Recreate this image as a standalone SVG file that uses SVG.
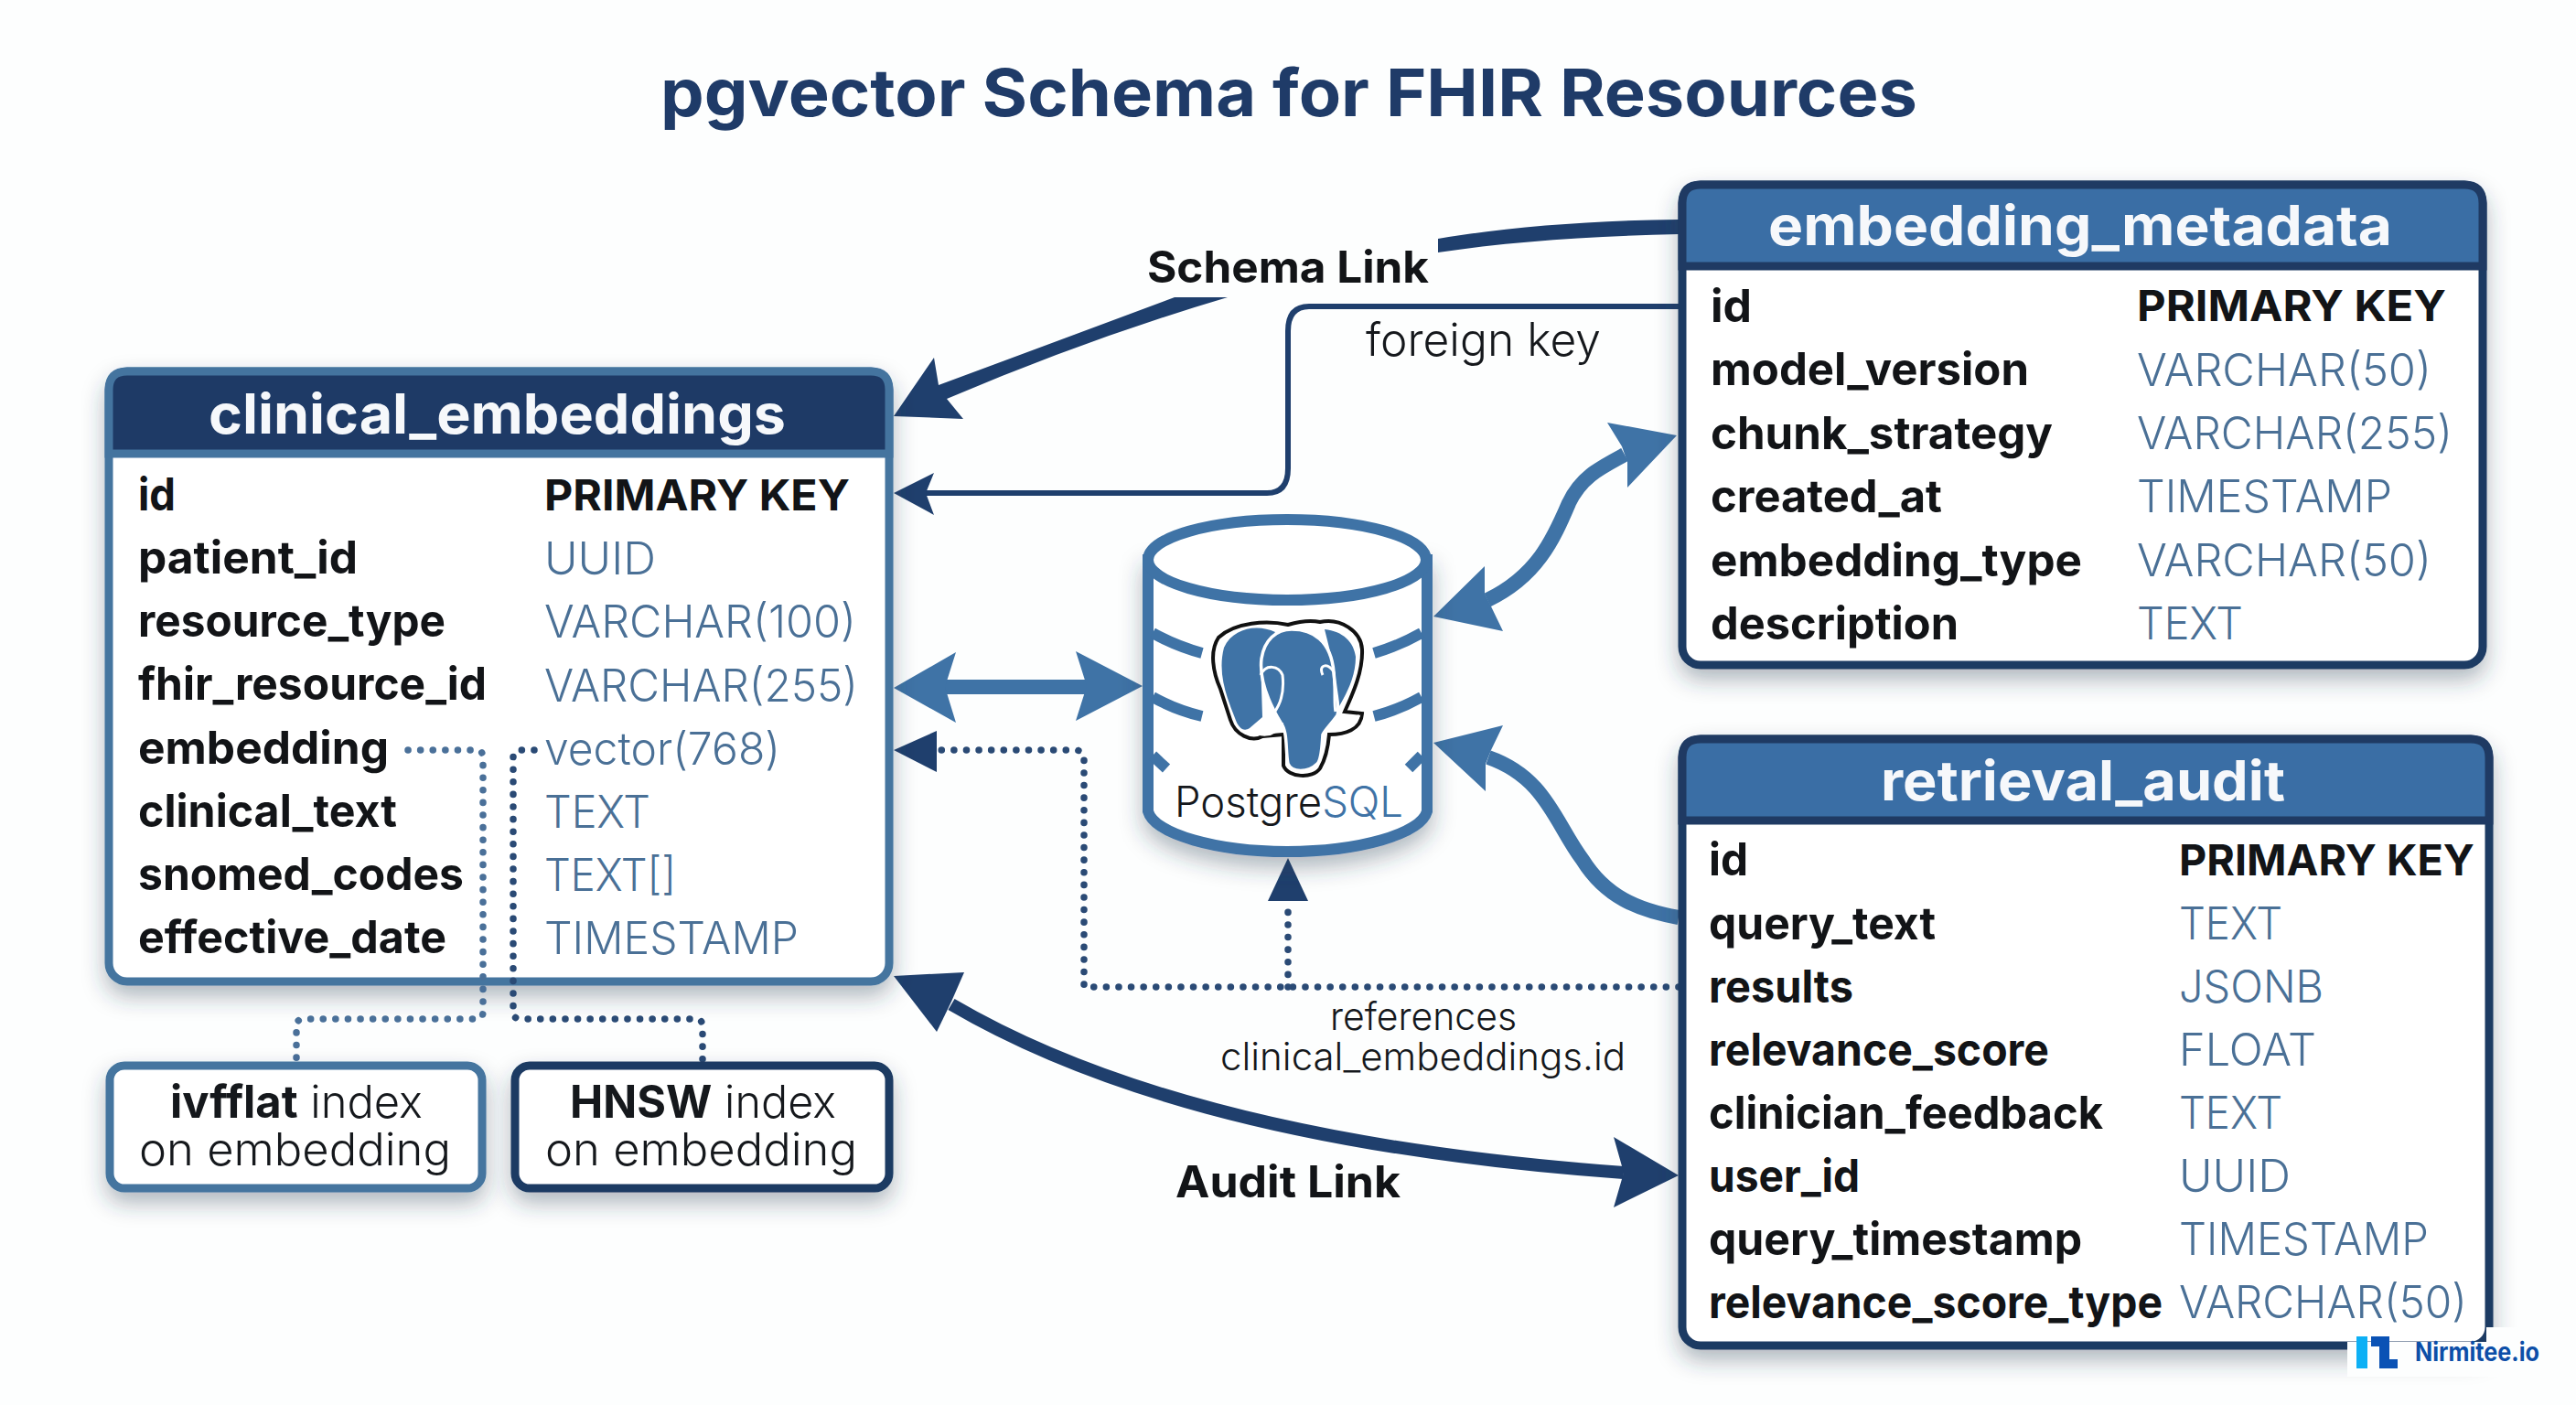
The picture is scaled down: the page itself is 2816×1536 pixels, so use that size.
<svg xmlns="http://www.w3.org/2000/svg" width="2816" height="1536" viewBox="0 0 2816 1536">
<style>
text{font-family:Inter,"Open Sans","Liberation Sans",sans-serif}
.title{font-size:72px;font-weight:700;fill:#1f3b68}
.hd{font-size:60px;font-weight:700;fill:#f6f8fb}
.k{font-size:49px;font-weight:700;fill:#121417}
.t{font-size:49px;font-weight:300;fill:#4a7096}
.pk{font-size:47px;font-weight:700;fill:#121417}
.lbl{font-size:48px;font-weight:700;fill:#121417}
.thin{font-size:50px;font-weight:300;fill:#15181c}
.ref{font-size:42px;font-weight:300;fill:#15181c}
.idx{font-size:49px;font-weight:300;fill:#15181c}
.idx .b{font-weight:700}
.body{fill:#fff;stroke-width:9}
.dk{stroke:#1f3a63}.bl{stroke:#44749f}
.dot{fill:none;stroke-width:7.5;stroke-linecap:round;stroke-dasharray:.1 13.5}
.sh{fill:none;stroke:#3f73a6;stroke-width:16}
.fd{fill:#1f3f6d}.fb{fill:#3f73a6}
</style>
<defs>
<filter id="s" x="-15%" y="-20%" width="130%" height="160%"><feDropShadow dx="0" dy="12" stdDeviation="12" flood-color="#2b3a4d" flood-opacity=".36"/></filter>
</defs>
<rect width="2816" height="1536" fill="#fdfefe"/>
<text class="title" x="722" y="127" textLength="1374" lengthAdjust="spacingAndGlyphs">pgvector Schema for FHIR Resources</text>

<g id="connectors">
<!-- schema link -->
<path class="fd" d="M1835 240V256C1740 258 1650 264 1572 276V261C1650 248 1740 241 1835 240Z"/>
<path class="fd" d="M1284 325H1342Q1190 370 1035 436L1053 458L977 455L1021 391L1026 421Q1150 375 1284 325Z"/>
<!-- foreign key -->
<path fill="none" stroke="#1f3f6d" stroke-width="6" d="M1835 335H1431Q1408 335 1408 362V512Q1408 539 1385 539H1005"/>
<path class="fd" d="M977 539L1021 517L1012 539L1021 563Z"/>
<!-- metadata <-> db -->
<path class="sh" d="M1626 656C1680 630 1698 590 1715 550C1728 522 1748 512 1776 497"/>
<path class="fb" d="M1567 674L1623 619V649L1630 663L1643 690Z"/>
<path class="fb" d="M1833 476L1757 462L1773 488L1779 505V533Z"/>
<!-- retrieval -> db -->
<path class="sh" d="M1627 828C1690 850 1700 900 1730 940C1755 980 1790 995 1835 1003"/>
<path class="fb" d="M1567 812L1643 793L1630 820L1624 835V865Z"/>
<!-- clinical <-> db -->
<path class="sh" stroke-width="18" d="M1030 751H1195"/>
<path class="fb" d="M1249 750L1176 712L1188 750L1176 788Z"/>
<path class="fb" d="M977 752L1045 713L1033 751L1045 790Z"/>
<!-- references -->
<path class="dot" stroke="#2a4a75" d="M1835 1079H1185V830Q1185 820 1175 820H1020"/>
<path class="fd" d="M977 820L1024 799V844Z"/>
<path class="dot" stroke="#2a4a75" d="M1408 1079V985"/>
<path class="fd" d="M1408 938L1430 985H1386Z"/>
<!-- audit -->
<path fill="none" stroke="#1f3f6d" stroke-width="14" d="M1040 1098C1180 1180 1400 1255 1775 1282"/>
<path class="fd" d="M977 1067L1054 1063L1040 1095L1024 1128Z"/>
<path class="fd" d="M1835 1285L1764 1243L1775 1282L1764 1320Z"/>
</g>

<g id="clinical_embeddings">
<rect class="body bl" x="119" y="406" width="853" height="667" rx="20" filter="url(#s)"/>
<path d="M119 496V426Q119 406 139 406H952Q972 406 972 426V496Z" fill="#1e3a66" stroke="#44749f" stroke-width="9"/>
<text class="hd" x="228" y="474" textLength="631" lengthAdjust="spacingAndGlyphs">clinical_embeddings</text>
<text class="k" x="151" y="558" textLength="41" lengthAdjust="spacingAndGlyphs">id</text>
<text class="k" x="151" y="627" textLength="240" lengthAdjust="spacingAndGlyphs">patient_id</text>
<text class="k" x="151" y="696" textLength="336" lengthAdjust="spacingAndGlyphs">resource_type</text>
<text class="k" x="151" y="765" textLength="381" lengthAdjust="spacingAndGlyphs">fhir_resource_id</text>
<text class="k" x="151" y="835" textLength="274" lengthAdjust="spacingAndGlyphs">embedding</text>
<text class="k" x="151" y="904" textLength="283" lengthAdjust="spacingAndGlyphs">clinical_text</text>
<text class="k" x="151" y="973" textLength="356" lengthAdjust="spacingAndGlyphs">snomed_codes</text>
<text class="k" x="151" y="1042" textLength="337" lengthAdjust="spacingAndGlyphs">effective_date</text>
<text class="pk" x="595" y="558" textLength="334" lengthAdjust="spacingAndGlyphs">PRIMARY KEY</text>
<text class="t" x="595" y="628" textLength="122" lengthAdjust="spacingAndGlyphs">UUID</text>
<text class="t" x="595" y="697" textLength="341" lengthAdjust="spacingAndGlyphs">VARCHAR(100)</text>
<text class="t" x="595" y="767" textLength="343" lengthAdjust="spacingAndGlyphs">VARCHAR(255)</text>
<text class="t" x="595" y="836" textLength="258" lengthAdjust="spacingAndGlyphs">vector(768)</text>
<text class="t" x="595" y="905" textLength="116" lengthAdjust="spacingAndGlyphs">TEXT</text>
<text class="t" x="595" y="974" textLength="144" lengthAdjust="spacingAndGlyphs">TEXT[]</text>
<text class="t" x="595" y="1043" textLength="278" lengthAdjust="spacingAndGlyphs">TIMESTAMP</text>
</g>

<g id="index_links">
<path class="dot" stroke="#4a7099" d="M446 820H520Q528 820 528 828V1106Q528 1114 520 1114H332Q324 1114 324 1122V1161"/>
<path class="dot" stroke="#2a4a75" d="M584 820H569Q561 820 561 828V1106Q561 1114 569 1114H760Q768 1114 768 1122V1161"/>
</g>

<g id="ivfflat_index">
<rect class="body bl" x="120" y="1165" width="407" height="134" rx="16" filter="url(#s)"/>
<text class="idx" x="186" y="1222" textLength="276" lengthAdjust="spacingAndGlyphs"><tspan class="b">ivfflat</tspan> index</text>
<text class="idx" x="152" y="1274" textLength="341" lengthAdjust="spacingAndGlyphs">on embedding</text>
</g>
<g id="hnsw_index">
<rect class="body dk" x="563" y="1165" width="409" height="134" rx="16" filter="url(#s)"/>
<text class="idx" x="623" y="1222" textLength="291" lengthAdjust="spacingAndGlyphs"><tspan class="b">HNSW</tspan> index</text>
<text class="idx" x="596" y="1274" textLength="341" lengthAdjust="spacingAndGlyphs">on embedding</text>
</g>

<g id="postgresql">
<path d="M1255 612V887C1262 912 1330 931 1407 931C1485 931 1553 912 1560 887V612Z" fill="#fff" stroke="#3f73a6" stroke-width="12" filter="url(#s)"/>
<ellipse cx="1407" cy="612" rx="152" ry="44" fill="#fff" stroke="#3f73a6" stroke-width="12"/>
<g fill="none" stroke="#3f73a6" stroke-width="12">
<path d="M1260 692Q1285 706 1314 714"/><path d="M1554 692Q1529 706 1502 714"/>
<path d="M1260 762Q1285 776 1314 783"/><path d="M1554 762Q1529 776 1502 783"/>
<path d="M1260 826L1275 840"/><path d="M1554 826L1540 840"/>
</g>
<path d="M1408 683C1385 678 1350 680 1332 697C1322 712 1326 735 1334 753L1345 787C1350 803 1368 812 1380 805L1403 803V837C1408 850 1435 852 1443 840C1450 828 1452 815 1453 803C1470 803 1488 798 1489 780L1470 778C1478 760 1490 735 1489 710C1488 690 1465 675 1443 680C1430 677 1418 680 1408 683Z" fill="#fff" stroke="#111" stroke-width="4"/>
<path d="M1394 691C1375 682 1348 686 1338 708C1331 735 1340 760 1350 785C1354 797 1360 800 1366 796L1380 784L1378 720Z" fill="#3f73a6"/>
<path d="M1448 688C1468 690 1480 702 1482 718C1482 740 1472 758 1464 772L1456 720Z" fill="#3f73a6"/>
<path d="M1379 720C1382 700 1395 688 1412 688C1435 688 1455 700 1458 735C1460 760 1465 775 1462 782C1455 792 1450 796 1446 803C1445 815 1445 830 1440 835C1430 845 1412 845 1408 835C1405 820 1408 800 1400 790C1388 770 1376 745 1379 720Z" fill="#3f73a6" stroke="#fff" stroke-width="3.5"/>
<path d="M1378 738C1384 725 1398 728 1402 738C1404 755 1400 770 1392 780" fill="none" stroke="#fff" stroke-width="3"/>
<path d="M1446 738C1440 725 1454 725 1458 735C1460 755 1458 770 1460 778" fill="none" stroke="#fff" stroke-width="3"/>
<path d="M1368 796C1375 805 1392 808 1402 790" fill="none" stroke="#fff" stroke-width="3"/>
<path d="M1462 782C1470 790 1482 788 1486 782" fill="none" stroke="#fff" stroke-width="3"/>
<text x="1284" y="893" font-size="46" font-weight="300" fill="#15181c" textLength="250" lengthAdjust="spacingAndGlyphs">Postgre<tspan fill="#3f73a6">SQL</tspan></text>
</g>

<g id="embedding_metadata">
<rect class="body dk" x="1839" y="202" width="875" height="525" rx="20" filter="url(#s)"/>
<path d="M1839 291V222Q1839 202 1859 202H2694Q2714 202 2714 222V291Z" fill="#3a6ea5" stroke="#1f3a63" stroke-width="9"/>
<text class="hd" x="1933" y="268" textLength="682" lengthAdjust="spacingAndGlyphs">embedding_metadata</text>
<text class="k" x="1870" y="352" textLength="45" lengthAdjust="spacingAndGlyphs">id</text>
<text class="k" x="1870" y="421" textLength="348" lengthAdjust="spacingAndGlyphs">model_version</text>
<text class="k" x="1870" y="491" textLength="374" lengthAdjust="spacingAndGlyphs">chunk_strategy</text>
<text class="k" x="1870" y="560" textLength="253" lengthAdjust="spacingAndGlyphs">created_at</text>
<text class="k" x="1870" y="630" textLength="406" lengthAdjust="spacingAndGlyphs">embedding_type</text>
<text class="k" x="1870" y="699" textLength="271" lengthAdjust="spacingAndGlyphs">description</text>
<text class="pk" x="2336" y="351" textLength="338" lengthAdjust="spacingAndGlyphs">PRIMARY KEY</text>
<text class="t" x="2336" y="422" textLength="322" lengthAdjust="spacingAndGlyphs">VARCHAR(50)</text>
<text class="t" x="2336" y="491" textLength="345" lengthAdjust="spacingAndGlyphs">VARCHAR(255)</text>
<text class="t" x="2336" y="560" textLength="279" lengthAdjust="spacingAndGlyphs">TIMESTAMP</text>
<text class="t" x="2336" y="630" textLength="322" lengthAdjust="spacingAndGlyphs">VARCHAR(50)</text>
<text class="t" x="2336" y="699" textLength="116" lengthAdjust="spacingAndGlyphs">TEXT</text>
</g>

<g id="retrieval_audit">
<rect class="body dk" x="1839" y="808" width="882" height="663" rx="20" filter="url(#s)"/>
<path d="M1839 897V828Q1839 808 1859 808H2701Q2721 808 2721 828V897Z" fill="#3a6ea5" stroke="#1f3a63" stroke-width="9"/>
<text class="hd" x="2056" y="875" textLength="442" lengthAdjust="spacingAndGlyphs">retrieval_audit</text>
<text class="k" x="1868" y="957" textLength="43" lengthAdjust="spacingAndGlyphs">id</text>
<text class="k" x="1868" y="1027" textLength="248" lengthAdjust="spacingAndGlyphs">query_text</text>
<text class="k" x="1868" y="1096" textLength="158" lengthAdjust="spacingAndGlyphs">results</text>
<text class="k" x="1868" y="1165" textLength="372" lengthAdjust="spacingAndGlyphs">relevance_score</text>
<text class="k" x="1868" y="1234" textLength="431" lengthAdjust="spacingAndGlyphs">clinician_feedback</text>
<text class="k" x="1868" y="1303" textLength="165" lengthAdjust="spacingAndGlyphs">user_id</text>
<text class="k" x="1868" y="1372" textLength="408" lengthAdjust="spacingAndGlyphs">query_timestamp</text>
<text class="k" x="1868" y="1441" textLength="496" lengthAdjust="spacingAndGlyphs">relevance_score_type</text>
<text class="pk" x="2382" y="957" textLength="323" lengthAdjust="spacingAndGlyphs">PRIMARY KEY</text>
<text class="t" x="2382" y="1027" textLength="113" lengthAdjust="spacingAndGlyphs">TEXT</text>
<text class="t" x="2382" y="1096" textLength="158" lengthAdjust="spacingAndGlyphs">JSONB</text>
<text class="t" x="2382" y="1165" textLength="150" lengthAdjust="spacingAndGlyphs">FLOAT</text>
<text class="t" x="2382" y="1234" textLength="113" lengthAdjust="spacingAndGlyphs">TEXT</text>
<text class="t" x="2382" y="1303" textLength="122" lengthAdjust="spacingAndGlyphs">UUID</text>
<text class="t" x="2382" y="1372" textLength="273" lengthAdjust="spacingAndGlyphs">TIMESTAMP</text>
<text class="t" x="2382" y="1441" textLength="315" lengthAdjust="spacingAndGlyphs">VARCHAR(50)</text>
</g>

<g id="labels">
<text class="lbl" x="1254" y="309" textLength="308" lengthAdjust="spacingAndGlyphs">Schema Link</text>
<text class="thin" x="1493" y="389" textLength="257" lengthAdjust="spacingAndGlyphs">foreign key</text>
<text class="ref" x="1454" y="1126" textLength="204" lengthAdjust="spacingAndGlyphs">references</text>
<text class="ref" x="1334" y="1170" textLength="443" lengthAdjust="spacingAndGlyphs">clinical_embeddings.id</text>
<text class="lbl" x="1285" y="1309" textLength="246" lengthAdjust="spacingAndGlyphs">Audit Link</text>
</g>

<g id="watermark">
<path d="M2566 1467H2718V1451H2790V1505H2566Z" fill="#fdfefe"/>
<rect x="2576" y="1461" width="12" height="35" fill="#0db0f5"/>
<path d="M2592 1461H2612V1486H2621V1496H2601V1472H2592Z" fill="#0a52b5"/>
<text x="2640" y="1488" font-size="28" font-weight="700" fill="#0d4fa8" textLength="136" lengthAdjust="spacingAndGlyphs">Nirmitee.io</text>
</g>
</svg>
